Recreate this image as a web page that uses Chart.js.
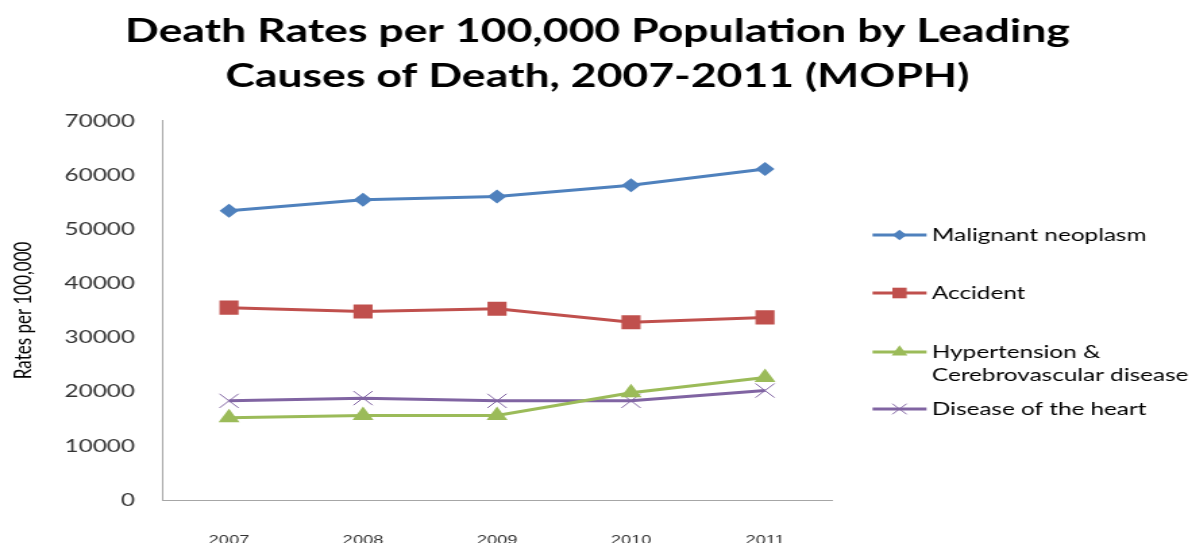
<!DOCTYPE html>
<html>
<head>
<meta charset="utf-8">
<title>Death Rates by Leading Causes of Death</title>
<script src="https://cdn.jsdelivr.net/npm/chart.js@4/dist/chart.umd.min.js"></script>
<style>
  html, body { margin: 0; padding: 0; background: #fff; overflow: hidden; }
  /* the chart is drawn narrow and widened, like the original slide graphic */
  #wrap { width: 885px; height: 543px; transform: scaleX(1.35); transform-origin: 0 0; }
</style>
</head>
<body>
<div id="wrap"><canvas id="deathChart" width="885" height="543"></canvas></div>
<script>
/* Chart data */
const years = ['2007', '2008', '2009', '2010', '2011'];
const causes = ['Malignant neoplasm', 'Accident', 'Hypertension & Cerebrovascular disease', 'Disease of the heart'];
const malignant = [53400, 55400, 56000, 58100, 61100];
const accident = [35500, 34800, 35300, 32800, 33700];
const hypertension = [15200, 15600, 15600, 19800, 22600];
const heart = [18300, 18800, 18300, 18300, 20200];
const yTicks = [0, 10000, 20000, 30000, 40000, 50000, 60000, 70000];

const colors = ['#4F81BD', '#C0504D', '#9BBB59', '#8064A2'];

/* Legend box on the right: line sample + marker + wrapped label */
const LEGEND_WIDTH = 268.7;
const legendRows = [235, 293, 352, 409];

function drawLegend(chart, box) {
  const ctx = chart.ctx;
  const x0 = box.left + 30, x1 = box.left + 70, tx = box.left + 74;
  const maxW = 195;
  ctx.save();
  ctx.font = '18px Lato';
  ctx.textBaseline = 'middle';
  ctx.textAlign = 'left';
  chart.data.datasets.forEach((ds, i) => {
    const y = legendRows[i];
    ctx.strokeStyle = ds.borderColor;
    ctx.lineWidth = 3;
    ctx.beginPath();
    ctx.moveTo(x0, y);
    ctx.lineTo(x1, y);
    ctx.stroke();

    ctx.fillStyle = ds.pointBackgroundColor;
    ctx.strokeStyle = ds.pointBorderColor;
    ctx.lineWidth = ds.pointBorderWidth;
    Chart.helpers.drawPoint(ctx, {
      pointStyle: ds.pointStyle,
      radius: ds.pointRadius * 0.75,
      borderWidth: ds.pointBorderWidth,
      rotation: 0
    }, (x0 + x1) / 2, y);

    // simple word wrap
    const words = ds.label.split(' ');
    const lines = [];
    let cur = '';
    words.forEach(w => {
      const test = cur ? cur + ' ' + w : w;
      if (cur && ctx.measureText(test).width > maxW) {
        lines.push(cur);
        cur = w;
      } else {
        cur = test;
      }
    });
    lines.push(cur);
    ctx.fillStyle = '#000';
    lines.forEach((ln, j) => ctx.fillText(ln, tx, y + j * 23));
  });
  ctx.restore();
}

const sideLegend = {
  id: 'sideLegend',
  beforeInit(chart) {
    const box = {
      position: 'right',
      weight: 0,
      fullSize: false,
      options: {},
      left: 0, top: 0, right: 0, bottom: 0, width: 0, height: 0,
      isHorizontal() { return false; },
      update(maxWidth, maxHeight) {
        this.width = LEGEND_WIDTH;
        this.height = maxHeight;
      },
      draw() { drawLegend(chart, this); }
    };
    Chart.layouts.addBox(chart, box);
  }
};

function lineSeries(label, data, color, style, radius) {
  return {
    label: label,
    data: data,
    borderColor: color,
    backgroundColor: color,
    borderWidth: 3,
    tension: 0,
    fill: false,
    pointStyle: style,
    pointRadius: radius,
    pointHoverRadius: radius,
    pointBackgroundColor: color,
    pointBorderColor: color,
    pointBorderWidth: style === 'crossRot' ? 1 : 0
  };
}

const ctx = document.getElementById('deathChart');
new Chart(ctx, {
  type: 'line',
  data: {
    labels: years,
    datasets: [
      lineSeries(causes[0], malignant, colors[0], 'rectRot', 7),
      lineSeries(causes[1], accident, colors[1], 'rect', 10),
      lineSeries(causes[2], hypertension, colors[2], 'triangle', 9),
      lineSeries(causes[3], heart, colors[3], 'crossRot', 10)
    ]
  },
  options: {
    responsive: false,
    animation: false,
    layout: { padding: 0 },
    plugins: {
      legend: { display: false },
      tooltip: { enabled: false },
      title: {
        display: true,
        text: ['Death Rates per 100,000 Population by Leading', 'Causes of Death, 2007-2011 (MOPH)'],
        color: '#000',
        font: { family: 'Lato', size: 33, weight: 'bold', lineHeight: 1.36 },
        padding: { top: 9, bottom: 22 }
      }
    },
    scales: {
      x: {
        offset: true,
        grid: { display: false, drawTicks: false },
        border: { display: true, color: '#A6A6A6', width: 1 },
        ticks: {
          color: '#333',
          padding: 32,
          font: { family: 'Liberation Sans', size: 13.5 }
        },
        afterFit(scale) { scale.height = 43; }
      },
      y: {
        min: 0,
        max: 70000,
        grid: { display: false, drawTicks: false },
        border: { display: true, color: '#A6A6A6', width: 1 },
        afterBuildTicks(scale) { scale.ticks = yTicks.map(v => ({ value: v })); },
        ticks: {
          color: '#333',
          padding: 20,
          font: { family: 'Lato', size: 18 },
          callback: v => String(v)
        },
        title: {
          display: true,
          text: 'Rates per 100,000',
          color: '#000',
          padding: { top: 7 },
          font: { family: 'Lato', size: 17 }
        },
        afterFit(scale) { scale.width = 120; }
      }
    }
  },
  plugins: [sideLegend]
});
</script>
</body>
</html>
